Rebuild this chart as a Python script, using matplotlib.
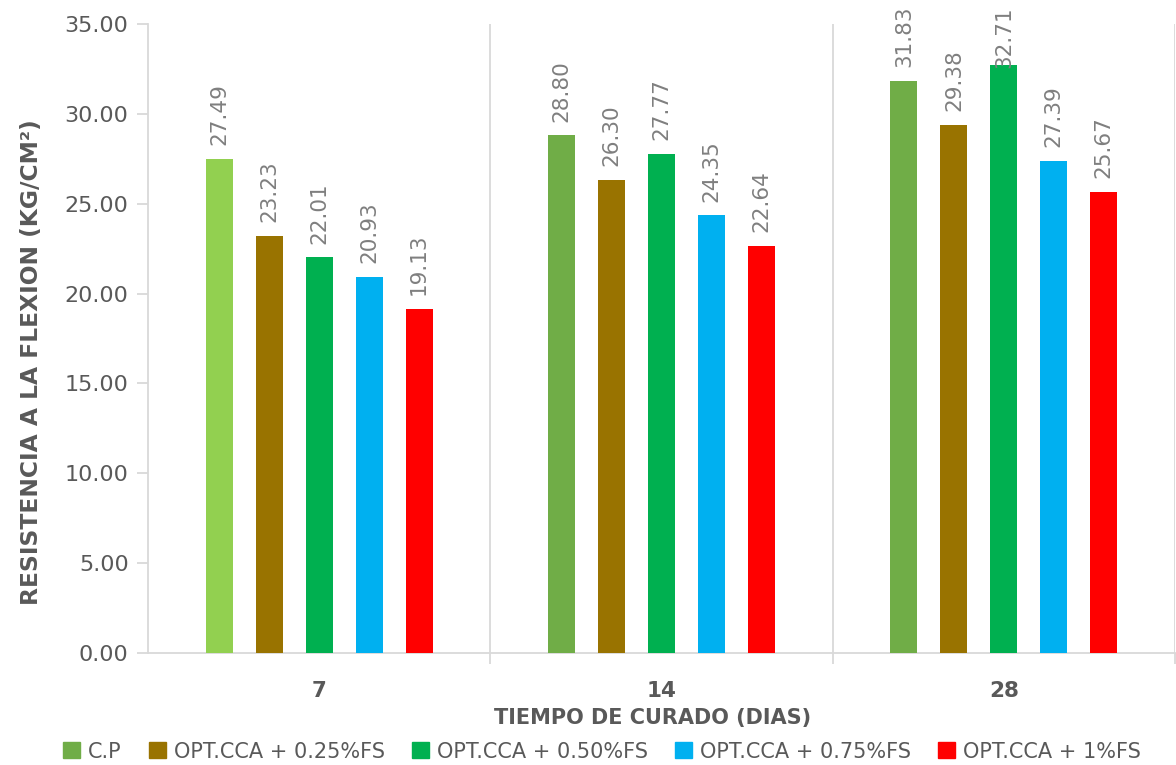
import numpy as np
import matplotlib.pyplot as plt
from matplotlib.patches import Patch

# data
dias = ["7", "14", "28"]
series = ["C.P", "OPT.CCA + 0.25%FS", "OPT.CCA + 0.50%FS",
          "OPT.CCA + 0.75%FS", "OPT.CCA + 1%FS"]
cp = [27.49, 28.80, 31.83]
fs025 = [23.23, 26.30, 29.38]
fs050 = [22.01, 27.77, 32.71]
fs075 = [20.93, 24.35, 27.39]
fs100 = [19.13, 22.64, 25.67]

colors = ["#70AD47", "#997300", "#00B050", "#00B0F0", "#FF0000"]
grid_c = "#D9D9D9"
text_c = "#595959"

fig = plt.figure(figsize=(11.76, 7.65), dpi=100)
ax = fig.add_axes([0.1259, 0.1464, 0.8733, 0.8222])

x = np.arange(len(dias))
step = 0.146
width = 0.079
ymax = 35
values = [cp, fs025, fs050, fs075, fs100]
for i, vals in enumerate(values):
    cols = [colors[i]] * len(vals)
    if i == 0:
        cols[0] = "#92D050"  # first C.P bar is a lighter green
    pos = x + (i - 2) * step
    bars = ax.bar(pos, vals, width, color=cols, zorder=3)
    for b, v in zip(bars, vals):
        xc = b.get_x() + b.get_width() / 2
        if v > 32:
            # no room above: pin label to top edge like excel does
            ax.annotate(f"{v:.2f}", (xc, ymax), xytext=(0, 13),
                        textcoords="offset points", rotation=90,
                        ha="center", va="top", fontsize=15.5,
                        color="#7F7F7F", zorder=4, annotation_clip=False)
        else:
            ax.annotate(f"{v:.2f}", (xc, v), xytext=(0, 10),
                        textcoords="offset points", rotation=90,
                        ha="center", va="bottom", fontsize=15.5,
                        color="#7F7F7F", zorder=4)

ax.set_xlim(-0.5, 2.5)
ax.set_ylim(0, ymax)
ax.set_yticks(np.arange(0, 35.1, 5))
ax.set_yticklabels([f"{t:.2f}" for t in np.arange(0, 35.1, 5)])

ax.set_xticks(x)
ax.set_xticklabels(dias, fontweight="bold")
ax.set_xticks([0.5, 1.5, 2.5], minor=True)
ax.grid(True, which="minor", axis="x", color=grid_c, lw=1.3, zorder=0)
ax.tick_params(axis="x", which="major", length=0, pad=20,
               labelsize=15.5, labelcolor=text_c)
ax.tick_params(axis="x", which="minor", length=8, color=grid_c, width=1.3)
ax.tick_params(axis="y", length=8, color=grid_c, width=1.3,
               labelsize=16, labelcolor=text_c, pad=6)

for s in ["top", "right"]:
    ax.spines[s].set_visible(False)
for s in ["left", "bottom"]:
    ax.spines[s].set_color(grid_c)
    ax.spines[s].set_linewidth(1.3)

ax.set_xlabel("TIEMPO DE CURADO (DIAS)", fontsize=15, fontweight="bold",
              color=text_c)
ax.xaxis.set_label_coords(0.4917, -0.087)
ax.set_ylabel("RESISTENCIA A LA FLEXION (KG/CM²)", fontsize=16.8,
              fontweight="bold", color=text_c)
ax.yaxis.set_label_coords(-0.102, 0.462)

handles = [Patch(color=c, label=s) for c, s in zip(colors, series)]
fig.legend(handles=handles, loc="lower center", ncol=5, frameon=False,
           bbox_to_anchor=(0.512, -0.02), fontsize=15, labelcolor=text_c,
           handlelength=0.8, handleheight=0.8, handletextpad=0.4,
           columnspacing=1.3)

fig.savefig("out.png", dpi=100)
